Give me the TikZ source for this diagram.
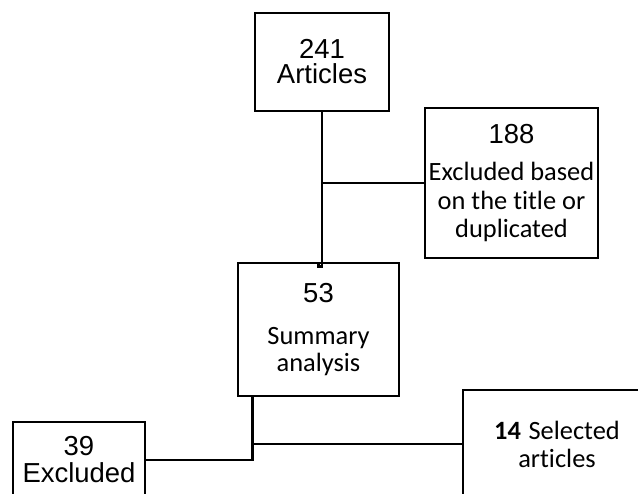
\documentclass[tikz,border=0pt]{standalone}
\usepackage{fontspec}
\setmainfont{Liberation Sans}
\newfontfamily\calib[Ligatures=NoCommon]{Carlito}

\begin{document}
\begin{tikzpicture}[x=0.75pt,y=0.75pt,yscale=-1,xscale=1,
  box/.style={draw, line width=2.2pt, align=center, inner sep=0pt,
    font=\fontsize{20.6}{20}\selectfont},
  link/.style={line width=2.2pt}]
%set diagram area: 638 wide, 493 high, lower boxes are cut by the frame
\clip (0,0) rectangle (638,493);

%Shape: Rectangle [id:art]
\node (art) at (322,62) [box, minimum width=100.5pt, minimum height=73.5pt] {241\\[-1.25pt]Articles};
%Shape: Rectangle [id:excl]
\node (excl) at (511.5,183) [box, minimum width=129.75pt, minimum height=112.5pt]
  {188\\[8pt]{\calib\fontsize{19.8}{20}\selectfont Excluded based}\\[2pt]{\calib\fontsize{19.8}{20}\selectfont on the title or}\\[1pt]{\calib\fontsize{19.8}{20}\selectfont duplicated}};
%Shape: Rectangle [id:summ]
\node (summ) at (318.5,329.5) [box, minimum width=120.75pt, minimum height=99.75pt]
  {53\\[11pt]{\calib\fontsize{19.8}{20}\selectfont Summary}\\[0.25pt]{\calib\fontsize{19.8}{20}\selectfont analysis}};
%Shape: Rectangle [id:exc]
\node (exc) at (79,460) [box, minimum width=99pt, minimum height=57pt] {39\\[0.25pt]Excluded};
%Shape: Rectangle [id:sel]
\node (sel) at (557,444) [box, minimum width=141pt, minimum height=81pt]
  {{\calib\fontsize{19.8}{20}\selectfont\bfseries 14} {\calib\fontsize{19.8}{20}\selectfont Selected}\\[1pt]{\calib\fontsize{19.8}{20}\selectfont articles}};

%Straight Lines [id:jog]
\coordinate (jog) at ([yshift=3.75pt]art.south |- summ.north);
\draw [link] (art.south) -- (jog) -| (summ.north);
%Straight Lines [id:branch]
\draw [link] (art.south |- excl.west) -- (excl.west);
%Straight Lines [id:drop]
\coordinate (drop) at ([xshift=12pt]summ.south west);
\draw [link] (drop) |- (exc.east);
\draw [link] (drop |- sel.west) -- (sel.west);

\end{tikzpicture}
\end{document}
